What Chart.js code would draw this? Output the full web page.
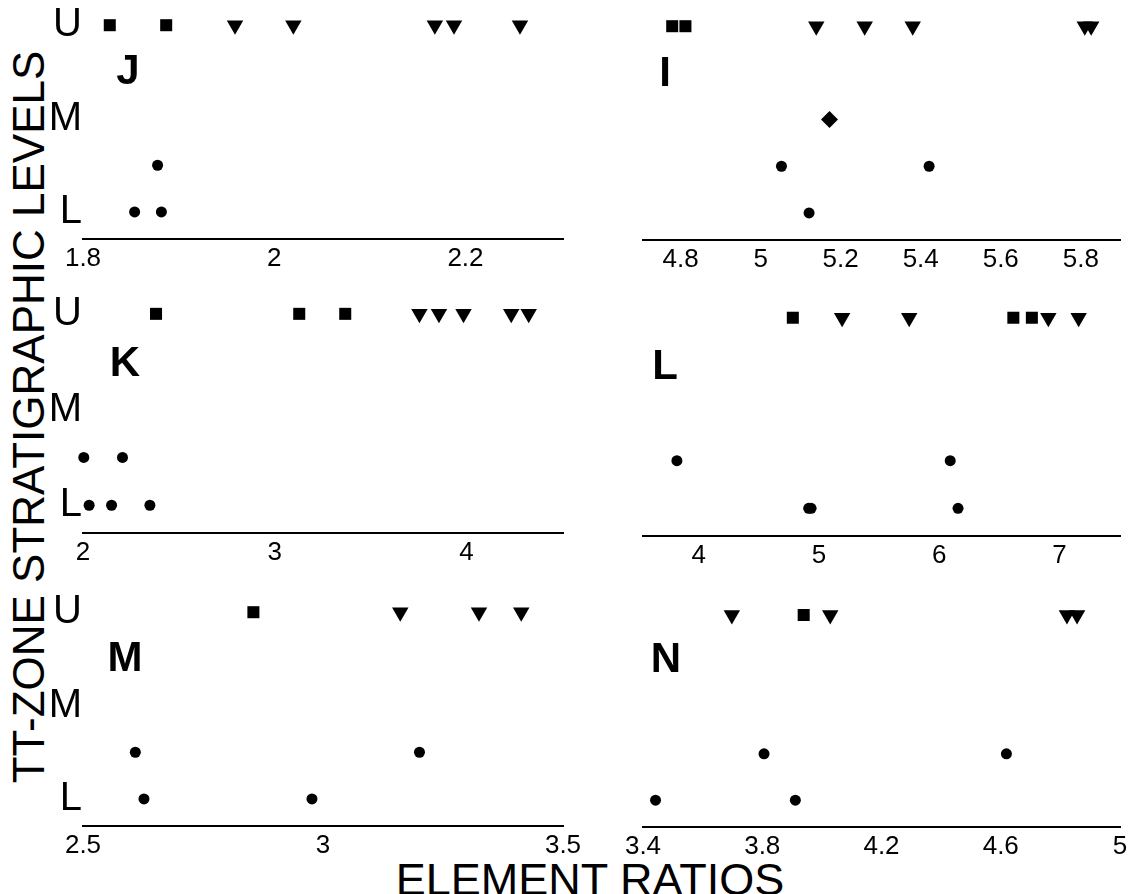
<!DOCTYPE html>
<html>
<head>
<meta charset="utf-8">
<title>TT-zone stratigraphic levels vs element ratios</title>
<script src="https://cdn.jsdelivr.net/npm/chart.js@4.4.1/dist/chart.umd.min.js"></script>
<style>
  body { margin: 0; background: #fff; }
  #page {
    position: relative;
    width: 1132px;
    height: 894px;
    overflow: hidden;
    font-family: "Liberation Sans", Arial, Helvetica, sans-serif;
    color: #000;
  }
  canvas { position: absolute; }
  .tag {
    position: absolute;
    font-weight: bold;
    font-size: 42px;
    line-height: 1;
    transform: translate(-50%, -50%);
  }
  #yTitle {
    position: absolute;
    left: 29px;
    top: 417px;
    font-size: 44px;
    line-height: 1;
    white-space: nowrap;
    transform: translate(-50%, -50%) rotate(-90deg);
  }
  #xTitle {
    position: absolute;
    left: 590px;
    top: 857px;
    font-size: 45px;
    line-height: 1;
    white-space: nowrap;
    transform: translateX(-50%);
  }
</style>
</head>
<body>
<div id="page">
  <div id="yTitle">TT-ZONE STRATIGRAPHIC LEVELS</div>
  <div id="xTitle">ELEMENT RATIOS</div>
</div>
<script>
// stratigraphic levels (y axis): L = lower, M = middle, U = upper
const levelNames = ['L', 'M', 'U'];
const levelTicks = [1, 2, 3];
const levelU = 3;
const levelM = 2;
const levelLM = 1.5; // samples plotted between L and M
const levelL = 1;

// panel J
const jTicks = [1.8, 2, 2.2];
const jSquaresU = [1.828, 1.887];
const jTrianglesU = [1.959, 2.020, 2.168, 2.188, 2.257];
const jCirclesLM = [1.878];
const jCirclesL = [1.854, 1.882];

// panel I
const iTicks = [4.8, 5, 5.2, 5.4, 5.6, 5.8];
const iSquaresU = [4.779, 4.812];
const iTrianglesU = [5.139, 5.260, 5.380, 5.810, 5.826];
const iDiamondsM = [5.172];
const iCirclesLM = [5.052, 5.421];
const iCirclesL = [5.121];

// panel K
const kTicks = [2, 3, 4];
const kSquaresU = [2.381, 3.128, 3.368];
const kTrianglesU = [3.755, 3.857, 3.985, 4.234, 4.325];
const kCirclesLM = [2.004, 2.206];
const kCirclesL = [2.032, 2.149, 2.349];

// panel L
const lTicks = [4, 5, 6, 7];
const lSquaresU = [4.783, 6.617, 6.771];
const lTrianglesU = [5.193, 5.751, 6.908, 7.160];
const lCirclesLM = [3.819, 6.092];
const lCirclesL = [4.915, 4.935, 6.157];

// panel M
const mTicks = [2.5, 3, 3.5];
const mSquaresU = [2.855];
const mTrianglesU = [3.161, 3.325, 3.413];
const mCirclesLM = [2.609, 3.201];
const mCirclesL = [2.627, 2.977];

// panel N
const nTicks = [3.4, 3.8, 4.2, 4.6, 5];
const nSquaresU = [3.939];
const nTrianglesU = [3.698, 4.028, 4.822, 4.856];
const nCirclesLM = [3.806, 4.619];
const nCirclesL = [3.442, 3.911];

const panels = [
  { name: 'J', ticks: jTicks, min: 1.8, max: 2.302, squares: jSquaresU, triangles: jTrianglesU, diamonds: [], mid: jCirclesLM, low: jCirclesL },
  { name: 'I', ticks: iTicks, min: 4.706, max: 5.898, squares: iSquaresU, triangles: iTrianglesU, diamonds: iDiamondsM, mid: iCirclesLM, low: iCirclesL },
  { name: 'K', ticks: kTicks, min: 2.0, max: 4.504, squares: kSquaresU, triangles: kTrianglesU, diamonds: [], mid: kCirclesLM, low: kCirclesL },
  { name: 'L', ticks: lTicks, min: 3.537, max: 7.504, squares: lSquaresU, triangles: lTrianglesU, diamonds: [], mid: lCirclesLM, low: lCirclesL },
  { name: 'M', ticks: mTicks, min: 2.5, max: 3.5, squares: mSquaresU, triangles: mTrianglesU, diamonds: [], mid: mCirclesLM, low: mCirclesL },
  { name: 'N', ticks: nTicks, min: 3.4, max: 5.0, squares: nSquaresU, triangles: nTrianglesU, diamonds: [], mid: nCirclesLM, low: nCirclesL }
];

// where each plot area sits on the page (left column / right column)
const layout = {
  J: { col: 0, top: 0,   bottom: 239, tagX: 128, tagY: 70 },
  I: { col: 1, top: 1,   bottom: 240, tagX: 665, tagY: 72 },
  K: { col: 0, top: 288, bottom: 533, tagX: 125, tagY: 362 },
  L: { col: 1, top: 292, bottom: 536, tagX: 665, tagY: 365 },
  M: { col: 0, top: 587, bottom: 826, tagX: 125, tagY: 657 },
  N: { col: 1, top: 590, bottom: 827, tagX: 666, tagY: 658 }
};
const columns = [
  { left: 0,   width: 605, areaLeft: 83,  areaRight: 563 },
  { left: 605, width: 527, areaLeft: 643, areaRight: 1120 }
];
const axisBoxHeight = 46;
const yMin = 0.71, yMax = 3.27;

Chart.defaults.font.family = '"Liberation Sans", Arial, Helvetica, sans-serif';
Chart.defaults.color = '#000';

function atLevel(xs, y) {
  return xs.map(x => ({ x: x, y: y }));
}

const page = document.getElementById('page');

panels.forEach(p => {
  const pos = layout[p.name];
  const col = columns[pos.col];
  const showLevels = pos.col === 0;

  const canvas = document.createElement('canvas');
  const h = pos.bottom - pos.top + axisBoxHeight;
  canvas.width = col.width;
  canvas.height = h;
  canvas.style.left = col.left + 'px';
  canvas.style.top = pos.top + 'px';
  canvas.style.width = col.width + 'px';
  canvas.style.height = h + 'px';
  page.appendChild(canvas);

  const tag = document.createElement('div');
  tag.className = 'tag';
  tag.textContent = p.name;
  tag.style.left = pos.tagX + 'px';
  tag.style.top = pos.tagY + 'px';
  page.appendChild(tag);

  const base = { backgroundColor: '#000', borderColor: '#000', borderWidth: 0, clip: false };

  new Chart(canvas.getContext('2d'), {
    type: 'scatter',
    data: {
      datasets: [
        Object.assign({ data: atLevel(p.squares, levelU), pointStyle: 'rect', pointRadius: 8.5 }, base),
        Object.assign({ data: atLevel(p.triangles, levelU), pointStyle: 'triangle', rotation: 180, pointRadius: 9.5 }, base),
        Object.assign({ data: atLevel(p.diamonds, levelM), pointStyle: 'rectRot', pointRadius: 8.5 }, base),
        Object.assign({ data: atLevel(p.mid, levelLM), pointStyle: 'circle', pointRadius: 5.5 }, base),
        Object.assign({ data: atLevel(p.low, levelL), pointStyle: 'circle', pointRadius: 5.5 }, base)
      ]
    },
    options: {
      responsive: false,
      animation: false,
      events: [],
      layout: {
        autoPadding: false,
        padding: {
          left: 0,
          right: col.left + col.width - col.areaRight,
          top: 0,
          bottom: 0
        }
      },
      plugins: { legend: { display: false }, tooltip: { enabled: false } },
      scales: {
        x: {
          type: 'linear',
          min: p.min,
          max: p.max,
          grid: { display: false, drawTicks: false },
          border: { display: true, color: '#000', width: 2 },
          ticks: {
            font: { size: 26 },
            color: '#000',
            padding: 4,
            autoSkip: false,
            maxRotation: 0,
            callback: v => String(v)
          },
          afterBuildTicks: s => { s.ticks = p.ticks.map(v => ({ value: v })); },
          afterFit: s => {
            s.height = axisBoxHeight;
            s.paddingLeft = 0;
            s.paddingRight = 0;
          }
        },
        y: {
          type: 'linear',
          min: yMin,
          max: yMax,
          grid: { display: false, drawTicks: false },
          border: { display: false },
          ticks: {
            display: showLevels,
            font: { size: 40 },
            color: '#000',
            padding: 1,
            callback: v => levelNames[levelTicks.indexOf(v)]
          },
          afterBuildTicks: s => { s.ticks = levelTicks.map(v => ({ value: v })); },
          afterFit: s => {
            s.width = col.areaLeft - col.left;
            s.paddingTop = 0;
            s.paddingBottom = 0;
          }
        }
      }
    }
  });
});
</script>
</body>
</html>
